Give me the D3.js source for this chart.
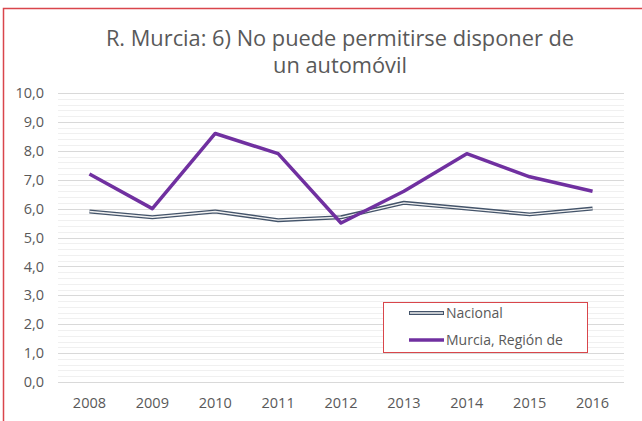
<!DOCTYPE html>
<html>
<head>
<meta charset="utf-8">
<script src="https://cdn.jsdelivr.net/npm/d3@7"></script>
<style>
  body { margin: 0; background: #fff; }
  svg text { font-family: "Open Sans", "Liberation Sans", sans-serif; fill: #595959; }
</style>
</head>
<body>
<div id="chart"></div>
<script>
// data
var years = ["2008", "2009", "2010", "2011", "2012", "2013", "2014", "2015", "2016"];
var nacional = [5.9, 5.7, 5.9, 5.6, 5.7, 6.2, 6.0, 5.8, 6.0];
var murcia = [7.2, 6.0, 8.6, 7.9, 5.5, 6.6, 7.9, 7.1, 6.6];
var yTicks = [0, 1, 2, 3, 4, 5, 6, 7, 8, 9, 10];
var titleLines = ["R. Murcia: 6) No puede permitirse disponer de", "un automóvil"];

var W = 642, H = 421;
var margin = { top: 93, right: 18, bottom: 39, left: 58 },
    width = W - margin.left - margin.right,
    height = H - margin.top - margin.bottom;

var svg = d3.select("#chart").append("svg")
    .attr("width", W)
    .attr("height", H);

// red frame (left + top, bottom is cut off)
svg.append("path")
    .attr("d", "M3.5," + H + "V8.5H" + W)
    .attr("fill", "none")
    .attr("stroke", "#d9464b")
    .attr("stroke-width", 1.5);

var g = svg.append("g")
    .attr("transform", "translate(" + margin.left + "," + margin.top + ")");

var x = d3.scaleBand().domain(years).range([0, width]);
var y = d3.scaleLinear().domain([0, 10]).range([height, 0]);

// minor gridlines
g.append("g").selectAll("line")
    .data(d3.range(0, 10.01, 0.2).filter(function(v) { return Math.abs(v - Math.round(v)) > 0.01; }))
    .join("line")
    .attr("x1", 0).attr("x2", width)
    .attr("y1", function(d) { return Math.round(y(d)) + 0.5; })
    .attr("y2", function(d) { return Math.round(y(d)) + 0.5; })
    .attr("stroke", "#f0f0f0");

// major gridlines
g.append("g").selectAll("line")
    .data(yTicks)
    .join("line")
    .attr("x1", 0).attr("x2", width)
    .attr("y1", function(d) { return Math.round(y(d)) + 0.5; })
    .attr("y2", function(d) { return Math.round(y(d)) + 0.5; })
    .attr("stroke", "#d9d9d9");

// y axis labels
var fmt = function(v) { return d3.format(".1f")(v).replace(".", ","); };
var yAxis = g.append("g")
    .call(d3.axisLeft(y).tickValues(yTicks).tickFormat(fmt).tickSize(0).tickPadding(14));
yAxis.select(".domain").remove();
yAxis.selectAll("text").style("font-size", "14.5px").attr("fill", "#595959");

// x axis labels
var xAxis = g.append("g")
    .attr("transform", "translate(0," + height + ")")
    .call(d3.axisBottom(x).tickSize(0).tickPadding(16));
xAxis.select(".domain").remove();
xAxis.selectAll("text").style("font-size", "14.5px").attr("fill", "#595959");

var line = d3.line()
    .x(function(d, i) { return x(years[i]) + x.bandwidth() / 2; })
    .y(function(d) { return y(d); });

// Nacional: compound line (dark outline, light core)
g.append("path").datum(nacional)
    .attr("d", line).attr("fill", "none")
    .attr("stroke", "#44546a").attr("stroke-width", 4)
    .attr("stroke-linejoin", "round");
g.append("path").datum(nacional)
    .attr("d", line).attr("fill", "none")
    .attr("stroke", "#f2f2f2").attr("stroke-width", 1.3)
    .attr("stroke-linejoin", "round");

// Murcia
g.append("path").datum(murcia)
    .attr("d", line).attr("fill", "none")
    .attr("stroke", "#7030a0").attr("stroke-width", 3.5)
    .attr("stroke-linejoin", "round");

// title
svg.append("text")
    .attr("x", 340)
    .attr("y", 46)
    .attr("text-anchor", "middle")
    .style("font-size", "21.8px")
    .selectAll("tspan")
    .data(titleLines)
    .join("tspan")
    .attr("x", 340)
    .attr("dy", function(d, i) { return i ? 27 : 0; })
    .text(function(d) { return d; });

// legend
var legend = svg.append("g").attr("transform", "translate(383,302)");
legend.append("rect")
    .attr("x", 0.5).attr("y", 0.5)
    .attr("width", 204).attr("height", 50)
    .attr("fill", "#fff")
    .attr("stroke", "#d9464b");

var items = [
    { name: "Nacional", y: 11 },
    { name: "Murcia, Región de", y: 38 }
];
items.forEach(function(it, i) {
    if (i === 0) {
        legend.append("line").attr("x1", 26).attr("x2", 61).attr("y1", it.y).attr("y2", it.y)
            .attr("stroke", "#44546a").attr("stroke-width", 4);
        legend.append("line").attr("x1", 27).attr("x2", 60).attr("y1", it.y).attr("y2", it.y)
            .attr("stroke", "#f2f2f2").attr("stroke-width", 1.3);
    } else {
        legend.append("line").attr("x1", 26).attr("x2", 61).attr("y1", it.y).attr("y2", it.y)
            .attr("stroke", "#7030a0").attr("stroke-width", 3.5);
    }
    legend.append("text")
        .attr("x", 63).attr("y", it.y)
        .attr("dy", "0.35em")
        .style("font-size", "14px")
        .text(it.name);
});
</script>
</body>
</html>
